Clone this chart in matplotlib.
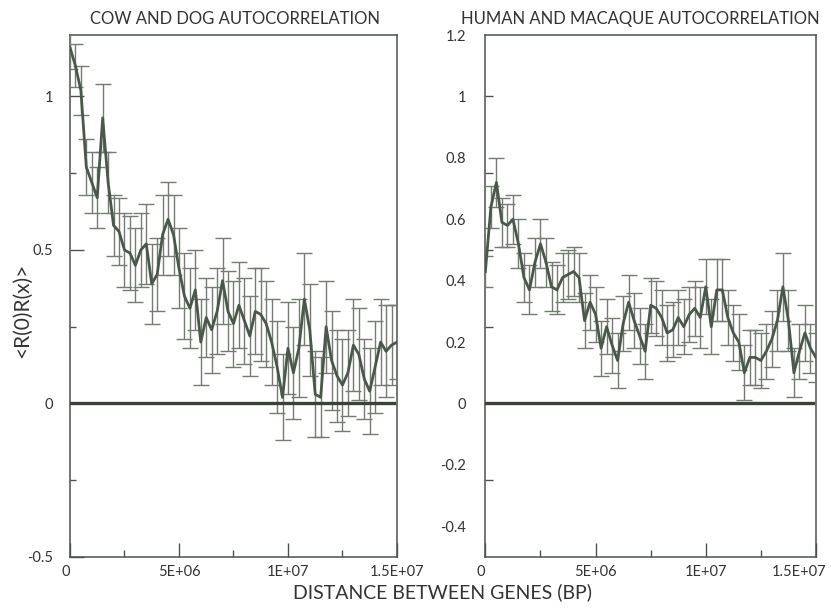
import numpy as np
import matplotlib
matplotlib.use('Agg')
import matplotlib.pyplot as plt
import matplotlib.transforms as mtransforms
from matplotlib.ticker import FixedLocator, NullFormatter

plt.rcParams['font.family'] = ['Lato', 'DejaVu Sans']

# distance between genes (bp), one point every 250 kb
dist = np.arange(61) * 2.5e5

cow_dog = [1.16, 1.10, 1.02, 0.77, 0.72, 0.67, 0.93, 0.72, 0.58, 0.56,
           0.50, 0.49, 0.45, 0.50, 0.52, 0.39, 0.42, 0.55, 0.60, 0.55,
           0.44, 0.35, 0.31, 0.37, 0.20, 0.28, 0.24, 0.30, 0.40, 0.30,
           0.26, 0.32, 0.27, 0.22, 0.30, 0.29, 0.26, 0.20, 0.12, 0.02,
           0.18, 0.10, 0.18, 0.34, 0.24, 0.03, 0.02, 0.25, 0.14, 0.09,
           0.06, 0.10, 0.19, 0.16, 0.08, 0.04, 0.12, 0.20, 0.17, 0.19,
           0.20]
cow_dog_err = [0.07, 0.07, 0.08, 0.09, 0.10, 0.10, 0.11, 0.10, 0.10, 0.11,
               0.12, 0.12, 0.12, 0.12, 0.13, 0.13, 0.12, 0.13, 0.12, 0.13,
               0.13, 0.14, 0.13, 0.13, 0.14, 0.13, 0.14, 0.14, 0.14, 0.13,
               0.14, 0.14, 0.14, 0.13, 0.14, 0.15, 0.14, 0.14, 0.15, 0.14,
               0.15, 0.15, 0.16, 0.15, 0.15, 0.14, 0.13, 0.15, 0.16, 0.15,
               0.15, 0.14, 0.15, 0.15, 0.13, 0.14, 0.15, 0.14, 0.15, 0.13,
               0.12]

human_macaque = [0.43, 0.64, 0.72, 0.59, 0.58, 0.60, 0.52, 0.41, 0.37, 0.46,
                 0.52, 0.46, 0.38, 0.37, 0.41, 0.42, 0.43, 0.41, 0.27, 0.33,
                 0.29, 0.18, 0.25, 0.19, 0.14, 0.26, 0.33, 0.27, 0.22, 0.17,
                 0.32, 0.31, 0.28, 0.23, 0.24, 0.28, 0.25, 0.29, 0.31, 0.28,
                 0.38, 0.25, 0.37, 0.37, 0.28, 0.23, 0.20, 0.10, 0.15, 0.15,
                 0.14, 0.17, 0.21, 0.27, 0.38, 0.27, 0.10, 0.17, 0.23, 0.18,
                 0.15]
human_macaque_err = [0.05, 0.07, 0.08, 0.08, 0.07, 0.08, 0.08, 0.08, 0.08, 0.08,
                     0.08, 0.08, 0.08, 0.08, 0.08, 0.08, 0.08, 0.08, 0.09, 0.09,
                     0.09, 0.09, 0.09, 0.09, 0.09, 0.09, 0.09, 0.09, 0.09, 0.09,
                     0.09, 0.09, 0.09, 0.09, 0.09, 0.09, 0.09, 0.09, 0.09, 0.10,
                     0.09, 0.09, 0.10, 0.10, 0.09, 0.09, 0.09, 0.09, 0.09, 0.09,
                     0.09, 0.09, 0.09, 0.10, 0.11, 0.10, 0.08, 0.09, 0.09, 0.08,
                     0.08]

titles = ['COW AND DOG AUTOCORRELATION', 'HUMAN AND MACAQUE AUTOCORRELATION']
xtick_vals = [0, 5e6, 1e7, 1.5e7]
xtick_labels = ['0', '5E+06', '1E+07', '1.5E+07']

line_col = '#4a584a'
bar_col = '#737b73'
axis_col = '#4d524d'
text_col = '#333333'

fig = plt.figure(figsize=(8.31, 6.09), dpi=100)
ax1 = fig.add_axes([0.0842, 0.0854, 0.3935, 0.857])
ax2 = fig.add_axes([0.5841, 0.0854, 0.3978, 0.857])


def draw_panel(ax, y, err):
    ax.errorbar(dist, y, yerr=err, color=line_col, lw=2.0, ecolor=bar_col,
                elinewidth=1.0, capsize=6, capthick=1.0, zorder=3)
    ax.axhline(0, xmin=0, xmax=0.99, color='#3a423a', lw=2.4, zorder=4)
    ax.set_xlim(0, 1.5e7)
    ax.set_ylim(-0.5, 1.2)
    for s in ax.spines.values():
        s.set_color(axis_col)
        s.set_linewidth(1.1)
    ax.set_xticks(xtick_vals)
    ax.set_xticklabels(xtick_labels)
    ax.get_xticklabels()[0].set_ha('right')
    ax.xaxis.set_minor_locator(FixedLocator([2.5e6, 7.5e6, 1.25e7]))
    ax.tick_params(axis='x', which='major', direction='in', length=10,
                   width=1.0, color=axis_col, labelsize=10.5, pad=6,
                   labelcolor=text_col)
    ax.tick_params(axis='x', which='minor', direction='in', length=5,
                   width=1.0, color=axis_col)
    ax.tick_params(top=False, right=False)


draw_panel(ax1, cow_dog, cow_dog_err)
draw_panel(ax2, human_macaque, human_macaque_err)

# last x label on the right panel sits a bit to the left so it stays on the page
shift = mtransforms.ScaledTranslation(-12 / 72, 0, fig.dpi_scale_trans)
last = ax2.get_xticklabels()[-1]
last.set_transform(last.get_transform() + shift)

# left panel y ticks
ax1.set_yticks([-0.5, 0, 0.5, 1])
ax1.set_yticklabels(['-0.5', '0', '0.5', '1'])
ax1.yaxis.set_minor_locator(FixedLocator([-0.25, 0.25, 0.75]))
ax1.tick_params(axis='y', which='major', direction='in', length=10, width=1.0,
                color=axis_col, labelsize=10.5, pad=12, labelcolor=text_col)
ax1.tick_params(axis='y', which='minor', direction='in', length=4.5, width=1.0,
                color=axis_col)

# right panel: labels every 0.2, tick marks every 0.25
ax2.set_yticks([-0.4, -0.2, 0, 0.2, 0.4, 0.6, 0.8, 1.0, 1.2])
ax2.set_yticklabels(['-0.4', '-0.2', '0', '0.2', '0.4', '0.6', '0.8', '1', '1.2'])
ax2.yaxis.set_minor_locator(FixedLocator([-0.25, 0.25, 0.5, 0.75, 1.0]))
ax2.yaxis.set_minor_formatter(NullFormatter())
ax2.yaxis.remove_overlapping_locs = False
ax2.tick_params(axis='y', which='major', length=0, labelsize=10.5, pad=14,
                labelcolor=text_col)
ax2.tick_params(axis='y', which='minor', direction='in', length=6, width=1.0,
                color=axis_col)

fig.text(0.283, 0.968, titles[0], ha='center', va='center', fontsize=12,
         color=text_col)
fig.text(0.771, 0.968, titles[1], ha='center', va='center', fontsize=12,
         color=text_col)
fig.text(0.533, 0.027, 'DISTANCE BETWEEN GENES (BP)', ha='center', va='center',
         fontsize=14, color=text_col)
fig.text(0.027, 0.49, '<R(0)R(x)>', ha='center', va='center', rotation=90,
         fontsize=15, color=text_col)

fig.savefig('out.png', dpi=100)
